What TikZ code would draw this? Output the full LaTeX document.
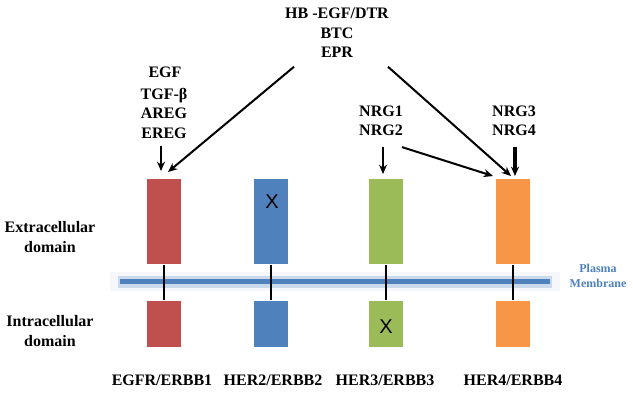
\documentclass[tikz,border=0pt]{standalone}
\usepackage{fontspec}
\setmainfont{Liberation Serif}
\setsansfont{Liberation Sans}
\usetikzlibrary{arrows.meta, positioning, calc}

\definecolor{erbbred}{HTML}{C0504D}
\definecolor{erbbblue}{HTML}{4F81BD}
\definecolor{erbbgreen}{HTML}{9BBB59}
\definecolor{erbborange}{HTML}{F79646}

\begin{document}
\begin{tikzpicture}[x=0.75pt, y=-0.75pt, >={Stealth[length=7pt, width=6pt]}, line width=1.5pt,
    lbl/.style={font=\bfseries\fontsize{12}{14.6}\selectfont, align=center, inner sep=0pt},
    extra/.style={minimum width=25.5pt, minimum height=63.75pt, inner sep=0pt},
    intra/.style={minimum width=25.5pt, minimum height=34.5pt, inner sep=0pt},
    mark x/.style={font=\sffamily\fontsize{15}{15}\selectfont}]
  \useasboundingbox (0,0) rectangle (633,408);

  % receptors
  \node[extra, fill=erbbred] (egfrout) at (164,221.5) {};
  \node[intra, fill=erbbred] (egfrin) at (164,324) {};
  \node[extra, fill=erbbblue] (her2out) at (271,221.5) {};
  \node[intra, fill=erbbblue] (her2in) at (271,324) {};
  \node[extra, fill=erbbgreen] (her3out) at (386,221.5) {};
  \node[intra, fill=erbbgreen] (her3in) at (386,324) {};
  \node[extra, fill=erbborange] (her4out) at (513,221.5) {};
  \node[intra, fill=erbborange] (her4in) at (513,324) {};

  \node[mark x] (x2) at (272,202) {X};
  \node[mark x] (x3) at (386,327) {X};

  % membrane
  \fill[erbbblue!6] (110,272) rectangle (560,291);
  \draw[erbbblue!30, line width=9pt] (118,281.5) -- (552,281.5);
  \draw[erbbblue, line width=4pt] (120,281.5) -- (550,281.5);
  \node[font=\bfseries\fontsize{9}{11}\selectfont, text=erbbblue, align=center] (pm) at (598,276) {Plasma\\Membrane};

  \foreach \r in {egfr, her2, her3, her4}
    \draw (\r out.south) -- (\r in.north);

  % labels
  \node[lbl] (ecd) at (50,237) {Extracellular\\domain};
  \node[lbl] (icd) at (50,331) {Intracellular\\domain};
  \node[lbl] (egfrl) at (162,380) {EGFR/ERBB1};
  \node[lbl] (her2l) at (273,380) {HER2/ERBB2};
  \node[lbl] (her3l) at (385,380) {HER3/ERBB3};
  \node[lbl] (her4l) at (513,380) {HER4/ERBB4};

  % ligands
  \node[lbl] (hb) at (337,33) {HB -EGF/DTR\\BTC\\EPR};
  \node[lbl] (egf) at (165,72) {EGF};
  \node[lbl] (tgf) at (164,113) {TGF-β\\AREG\\EREG};
  \node[lbl] (nrg12) at (381,121) {NRG1\\NRG2};
  \node[lbl] (nrg34) at (514,121) {NRG3\\NRG4};

  \draw[->] ($(tgf.south)+(-3,7)$) -- ($(egfrout.north)+(-3,-7)$);
  \draw[->] ($(hb.south)+(-43,8)$) -- ($(egfrout.north)+(4,-6)$);
  \draw[->] ($(hb.south)+(51,8)$) -- ($(her4out.north)+(-2,-2)$);
  \draw[->] ($(nrg12.south)+(2,10)$) -- ($(her3out.north)+(-3,-4)$);
  \draw[->] ($(nrg12.south)+(21,10)$) -- ($(her4out.north)+(-20,-2)$);
  \draw[->, line width=3pt] ($(nrg34.south)+(1,10)$) -- ($(her4out.north)+(2,-2)$);
\end{tikzpicture}
\end{document}
